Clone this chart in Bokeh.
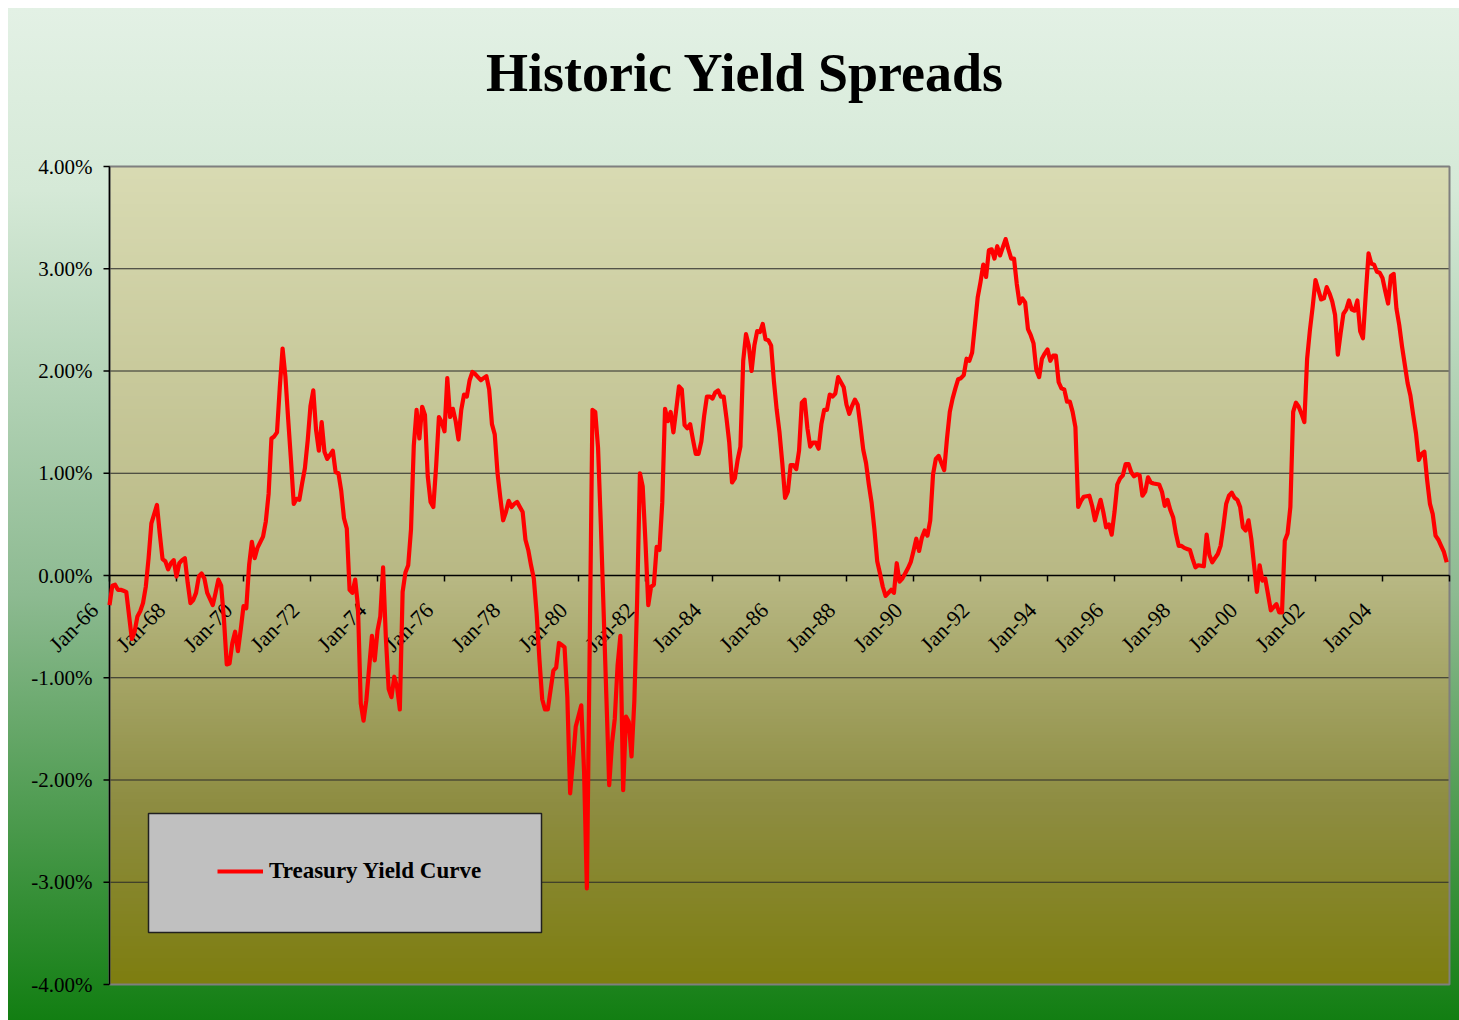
import numpy as np
from bokeh.plotting import figure
from bokeh.models import BoxAnnotation, Legend, LegendItem, Range1d, Label
from bokeh.core.properties import value
from bokeh.embed import file_html
from bokeh.resources import INLINE

# ---------------- data (months counted from Jan-1966) ----------------
BASE_MONTH = "Jan-66"
month_offset = [
    0, 1, 2, 3, 4, 5, 6, 8, 9, 10, 11, 12, 13, 14, 15, 17, 18, 19, 20, 21,
    22, 23, 24, 25, 26, 27, 28, 29, 30, 31, 32, 33, 34, 35, 37, 38, 39, 40, 41, 42,
    43, 44, 45, 46, 47, 48, 49, 50, 51, 52, 53, 55, 56, 57, 58, 59, 60, 61, 62, 63,
    64, 65, 66, 67, 68, 69, 70, 71, 72, 73, 74, 75, 76, 77, 78, 79, 80, 81, 82, 83,
    84, 85, 86, 87, 88, 89,
    90, 91, 92, 94, 95, 96, 97, 98, 99, 100, 101, 102, 103, 104, 105, 106, 107, 108, 109, 110,
    111, 112, 113, 114, 115, 116, 117, 118, 119, 120, 121, 122, 123, 124, 125, 126, 127, 128, 129, 130,
    131, 132, 133, 134, 135, 136, 137, 138, 139, 140, 141, 142, 143, 144, 145, 146, 147, 148, 149, 150,
    151, 152, 153, 154, 155, 156, 157, 158, 159, 160, 161, 162, 163, 164, 165, 166, 167, 169, 170, 171,
    173, 174, 175, 176, 177, 178, 179, 180, 181, 182, 183, 184, 185, 186, 187, 188, 189, 190, 191, 192,
    193,
    194, 195, 196, 197, 198, 199, 200, 201, 202, 203, 204, 205, 206, 207, 208, 209, 210, 211, 212, 213,
    214, 215, 216, 217, 218, 219, 220, 221, 222, 223, 224, 225, 226, 227, 228, 229, 230, 231, 232, 233,
    234, 235, 236, 237, 238, 239, 240, 241, 242, 243, 244, 245, 246, 247, 248, 249, 250, 251, 252, 253,
    254, 255, 256, 257, 258, 259, 260, 261, 262, 263, 264, 265, 266, 267, 268, 269, 270, 271, 272, 273,
    274, 275, 276, 277, 278, 279, 280, 281, 282, 283, 284, 285,
    286, 287, 288, 289, 290, 291, 292, 293, 294, 295, 296, 297, 299, 300, 301, 302, 303, 304, 305, 306,
    307, 308, 309, 310, 311, 312, 313, 314, 315, 316, 317, 318, 319, 320, 321, 322, 323, 324, 325, 326,
    327, 328, 329, 330, 331, 332, 333, 334, 335, 336, 337, 338, 339, 340, 341, 342, 343, 344, 345, 346,
    347, 348, 349, 351, 352, 353, 354, 355, 356, 357, 358, 359, 360, 361, 362, 363, 364, 365, 366, 367,
    368, 369, 370, 371, 372, 373, 374, 376, 377, 378, 379, 380, 381, 382,
    383, 384, 385, 386, 387, 388, 389, 390, 392, 393, 394, 395, 397, 398, 399, 400, 401, 402, 403, 404,
    405, 406, 407, 408, 409, 410, 411, 412, 413, 414, 416, 417, 418, 419, 420, 421, 422, 423, 424, 425,
    426, 427, 428, 429, 430, 431, 432, 434, 435, 436, 437, 438, 439, 440, 441, 442, 443, 444, 445, 446,
    447, 448, 449, 450, 451, 452, 453, 454, 455, 456, 457, 458, 459, 460, 461, 462, 463, 464, 465, 466,
    467, 468, 469, 470, 471, 472, 473, 474, 475, 476, 477, 478, 479,
]
spread_pct = [
    -0.29, -0.10, -0.09, -0.14, -0.14, -0.15, -0.16, -0.62, -0.55, -0.40, -0.35, -0.27, -0.11, 0.17, 0.51, 0.69, 0.41, 0.16, 0.14, 0.06,
    0.12, 0.15, -0.01, 0.12, 0.15, 0.17, -0.07, -0.27, -0.24, -0.17, -0.01, 0.02, -0.03, -0.17, -0.29, -0.17, -0.04, -0.10, -0.43, -0.87,
    -0.86, -0.66, -0.55, -0.74, -0.53, -0.30, -0.32, 0.10, 0.33, 0.17, 0.27, 0.38, 0.53, 0.80, 1.34, 1.36, 1.40, 1.84, 2.22, 1.95,
    1.53, 1.13, 0.70, 0.75, 0.74, 0.90, 1.05, 1.32, 1.66, 1.81, 1.42, 1.22, 1.50, 1.21, 1.14, 1.18, 1.22, 1.01, 1.00, 0.83,
    0.56, 0.46, -0.14, -0.17, -0.04, -0.30,
    -1.25, -1.42, -1.22, -0.59, -0.83, -0.54, -0.40, 0.08, -0.61, -1.11, -1.19, -0.99, -1.09, -1.31, -0.16, 0.03, 0.10, 0.45, 1.27, 1.62,
    1.34, 1.65, 1.57, 0.97, 0.72, 0.67, 1.07, 1.55, 1.50, 1.41, 1.93, 1.55, 1.63, 1.51, 1.33, 1.62, 1.77, 1.75, 1.91, 1.99,
    1.97, 1.94, 1.91, 1.93, 1.95, 1.82, 1.48, 1.38, 1.00, 0.76, 0.54, 0.62, 0.73, 0.67, 0.70, 0.72, 0.67, 0.62, 0.35, 0.25,
    0.10, -0.03, -0.37, -0.82, -1.21, -1.31, -1.31, -1.12, -0.93, -0.90, -0.66, -0.68, -0.70, -1.19, -2.13, -1.82, -1.48, -1.27, -1.92, -3.06,
    1.62, 1.60, 1.25, 0.50, -0.35, -1.20, -2.05, -1.64, -1.40, -0.88, -0.59, -2.10, -1.38, -1.43, -1.77, -1.23, -0.25, 1.00, 0.87, 0.32,
    -0.29,
    -0.11, -0.09, 0.28, 0.25, 0.71, 1.63, 1.51, 1.60, 1.40, 1.62, 1.85, 1.82, 1.47, 1.44, 1.48, 1.33, 1.19, 1.19, 1.31, 1.56,
    1.75, 1.75, 1.73, 1.79, 1.81, 1.75, 1.75, 1.54, 1.30, 0.91, 0.95, 1.13, 1.26, 2.10, 2.36, 2.25, 2.00, 2.25, 2.39, 2.38,
    2.46, 2.31, 2.30, 2.25, 1.90, 1.62, 1.40, 1.10, 0.76, 0.82, 1.08, 1.08, 1.04, 1.22, 1.69, 1.72, 1.44, 1.26, 1.30, 1.30,
    1.24, 1.48, 1.62, 1.62, 1.77, 1.75, 1.78, 1.94, 1.89, 1.84, 1.67, 1.58, 1.66, 1.72, 1.67, 1.46, 1.23, 1.10, 0.89, 0.71,
    0.45, 0.14, 0.02, -0.11, -0.20, -0.17, -0.14, -0.17, 0.12, -0.06, -0.03, 0.02,
    0.07, 0.13, 0.24, 0.36, 0.24, 0.37, 0.44, 0.39, 0.54, 0.99, 1.14, 1.17, 1.03, 1.34, 1.60, 1.73, 1.83, 1.92, 1.93, 1.96,
    2.12, 2.10, 2.18, 2.45, 2.72, 2.87, 3.04, 2.92, 3.18, 3.19, 3.10, 3.22, 3.13, 3.21, 3.29, 3.19, 3.10, 3.10, 2.85, 2.66,
    2.71, 2.67, 2.41, 2.35, 2.27, 2.01, 1.94, 2.12, 2.17, 2.21, 2.10, 2.15, 2.15, 1.89, 1.83, 1.82, 1.70, 1.70, 1.60, 1.45,
    0.67, 0.73, 0.77, 0.78, 0.68, 0.54, 0.64, 0.74, 0.62, 0.47, 0.50, 0.40, 0.62, 0.89, 0.95, 0.98, 1.09, 1.09, 1.01, 0.97,
    0.99, 0.98, 0.78, 0.82, 0.96, 0.91, 0.90, 0.89, 0.82, 0.68, 0.74, 0.64, 0.57, 0.41,
    0.29, 0.29, 0.27, 0.26, 0.25, 0.16, 0.08, 0.10, 0.09, 0.40, 0.20, 0.13, 0.21, 0.29, 0.48, 0.70, 0.78, 0.81, 0.76, 0.74,
    0.67, 0.47, 0.44, 0.54, 0.36, 0.10, -0.16, 0.10, -0.05, -0.03, -0.34, -0.31, -0.28, -0.36, -0.36, 0.34, 0.41, 0.67, 1.60, 1.69,
    1.65, 1.58, 1.50, 2.12, 2.40, 2.63, 2.89, 2.70, 2.71, 2.82, 2.76, 2.68, 2.55, 2.16, 2.37, 2.56, 2.60, 2.69, 2.60, 2.59,
    2.69, 2.39, 2.32, 2.75, 3.15, 3.05, 3.04, 2.97, 2.96, 2.91, 2.78, 2.66, 2.93, 2.95, 2.61, 2.45, 2.24, 2.06, 1.88, 1.76,
    1.57, 1.39, 1.13, 1.19, 1.21, 0.93, 0.70, 0.60, 0.39, 0.35, 0.29, 0.23, 0.13,
]
series_name = "Treasury Yield Curve"
tick_month = list(range(0, 481, 24))
tick_label = ["Jan-66", "Jan-68", "Jan-70", "Jan-72", "Jan-74", "Jan-76", "Jan-78",
              "Jan-80", "Jan-82", "Jan-84", "Jan-86", "Jan-88", "Jan-90", "Jan-92",
              "Jan-94", "Jan-96", "Jan-98", "Jan-00", "Jan-02", "Jan-04"]
y_ticks = [-4, -3, -2, -1, 0, 1, 2, 3, 4]
y_tick_label = [f"{v:.2f}%" for v in y_ticks]
chart_title = "Historic Yield Spreads"

assert len(month_offset) == len(spread_pct)

# ---------------- layout (pixels) ----------------
SERIF = "Liberation Serif"
W, H = 1451, 1012                 # figure size (page margin 8px left/top)
PAD_L, PAD_R, PAD_T, PAD_B = 101, 10, 158, 36   # plot-area insets inside the figure
X0, X1 = 0, 480                   # plot-area extent in months
Y0, Y1 = -4, 4                    # plot-area extent in percent
ppx = (W - PAD_L - PAD_R) / (X1 - X0)
ppy = (H - PAD_T - PAD_B) / (Y1 - Y0)

p = figure(width=W, height=H, output_backend="svg", toolbar_location=None,
           x_range=Range1d(X0 - PAD_L / ppx, X1 + PAD_R / ppx),
           y_range=Range1d(Y0 - PAD_B / ppy, Y1 + PAD_T / ppy),
           x_axis_location=None, y_axis_location=None, min_border=0)
p.margin = (8, 0, 0, 8)
p.title.visible = False
p.outline_line_color = None
p.border_fill_color = None
p.background_fill_color = None
p.xgrid.visible = False
p.ygrid.visible = False
p.styles = {"background": "linear-gradient(to bottom, #e3f1e5 0%, #d5e9d7 18%, "
                          "#8dba91 58%, #127e12 100%)"}

# plot-area gradient (pale khaki at top to olive at bottom)
rows = 256
t = np.linspace(0.0, 1.0, rows)  # 0 = bottom, 1 = top
stops = [0.0, 0.22, 0.5, 1.0]
r = np.interp(t, stops, [126, 142, 185, 217])
g = np.interp(t, stops, [126, 141, 185, 219])
b = np.interp(t, stops, [16, 66, 133, 179])
img = np.empty((rows, 1), dtype=np.uint32)
view = img.view(dtype=np.uint8).reshape((rows, 1, 4))
view[:, 0, 0] = r.astype(np.uint8)
view[:, 0, 1] = g.astype(np.uint8)
view[:, 0, 2] = b.astype(np.uint8)
view[:, 0, 3] = 255
p.image_rgba(image=[img], x=X0, y=Y0, dw=X1 - X0, dh=Y1 - Y0, level="image")

# horizontal gridlines
inner = [v for v in y_ticks if Y0 < v < Y1 and v != 0]
p.segment(x0=[X0] * len(inner), y0=inner, x1=[X1] * len(inner), y1=inner,
          line_color="#2a2a2a", line_width=1.2, level="underlay")
# plot-area border
p.quad(left=X0, right=X1, bottom=Y0, top=Y1, fill_color=None,
       line_color="#7f7f7f", line_width=2, level="underlay")

# value axis (left)
p.segment(x0=X0, y0=Y0, x1=X0, y1=Y1, line_color="black", line_width=1.5,
          level="underlay")
p.ray(x=[X0] * len(y_ticks), y=y_ticks, length=6, length_units="screen",
      angle=np.pi, line_color="black", line_width=1.5, level="underlay")
p.text(x=[X0] * len(y_ticks), y=y_ticks, text=y_tick_label,
       text_align="right", text_baseline="middle", x_offset=-17,
       text_font=value(SERIF), text_font_size="21px", text_color="black",
       level="underlay")

# date axis across the zero line
p.segment(x0=X0, y0=0, x1=X1, y1=0, line_color="black", line_width=1.5,
          level="underlay")
p.ray(x=tick_month, y=[0] * len(tick_month), length=6, length_units="screen",
      angle=-np.pi / 2, line_color="black", line_width=1.5, level="underlay")
p.text(x=tick_month[:len(tick_label)], y=[0] * len(tick_label), text=tick_label,
       angle=np.pi / 4, text_align="right", text_baseline="middle",
       x_offset=-15, y_offset=31, text_font=value(SERIF),
       text_font_size="22px", text_color="black", level="underlay")

# series
line_r = p.line(month_offset, spread_pct, line_color="#ff0000", line_width=4.2,
                line_join="round")

# legend box (screen units from the figure's bottom-left)
p.add_layout(BoxAnnotation(left=140, right=533, bottom=88, top=207,
                           left_units="screen", right_units="screen",
                           bottom_units="screen", top_units="screen",
                           fill_color="#c0c0c0", fill_alpha=1.0,
                           line_color="#202020", line_width=1.5, line_alpha=1.0))
legend = Legend(items=[LegendItem(label=series_name, renderers=[line_r])],
                location=(209, 136), padding=0, margin=0, spacing=0,
                glyph_width=46, glyph_height=24, label_height=24,
                label_standoff=6, background_fill_alpha=0.0,
                border_line_alpha=0.0, label_text_font=SERIF,
                label_text_font_style="bold", label_text_font_size="23px",
                label_text_color="black")
p.add_layout(legend)

# title
p.add_layout(Label(x=737, y=948, x_units="screen", y_units="screen",
                   text=chart_title, text_align="center",
                   text_baseline="alphabetic", text_font=SERIF,
                   text_font_style="bold", text_font_size="54px",
                   text_color="black"))

open("out.html", "w").write(file_html(p, INLINE))
